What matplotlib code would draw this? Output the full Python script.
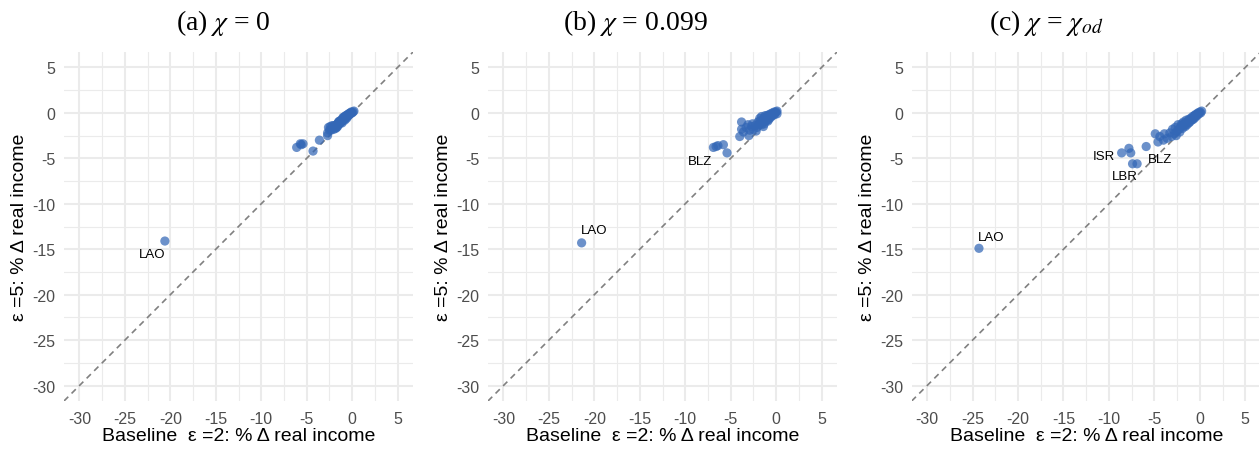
import matplotlib
matplotlib.use("Agg")
import matplotlib.pyplot as plt
import numpy as np

plt.rcParams["font.family"] = ["Liberation Sans", "DejaVu Sans"]
plt.rcParams["mathtext.fontset"] = "stix"

# ---- data: % change in real income, baseline epsilon=2 (x) vs epsilon=5 (y)
panel_titles = [r"(a) $\chi$ = 0", r"(b) $\chi$ = 0.099", r"(c) $\chi$ = $\chi_{od}$"]

a_x = [-20.6, -6.1, -5.7, -5.4, -5.6, -4.3, -3.6, -2.7, -2.7, -2.6, -2.5, -2.4,
       -2.3, -2.2, -2.1, -2.0, -1.9, -1.8, -1.8, -1.7, -1.6, -1.6, -1.5, -1.5,
       -1.4, -1.3, -1.3, -1.2, -1.2, -1.1, -1.0, -1.0, -0.9, -0.9, -0.8, -0.8,
       -0.7, -0.7, -0.6, -0.6, -0.5, -0.5, -0.4, -0.4, -0.3, -0.3, -0.2, -0.2,
       -0.1, -0.1, 0.0, 0.1, 0.2, -2.0, -1.7, -1.4, -1.1, -0.8, -2.2, -1.5,
       -1.0, -0.6]
a_y = [-14.1, -3.8, -3.4, -3.4, -3.5, -4.2, -3.0, -2.5, -2.2, -1.6, -1.9, -1.5,
       -1.9, -1.7, -1.6, -1.8, -1.5, -1.4, -1.7, -1.3, -1.5, -1.2, -1.3, -1.0,
       -1.2, -1.1, -0.9, -1.0, -0.8, -0.9, -0.8, -0.6, -0.7, -0.5, -0.6, -0.4,
       -0.5, -0.3, -0.4, -0.3, -0.4, -0.2, -0.3, -0.1, -0.2, -0.1, -0.1, 0.0,
       0.0, 0.1, 0.0, 0.1, 0.2, -1.4, -1.6, -0.9, -1.1, -0.8, -1.4, -1.1,
       -0.5, -0.6]

b_x = [-21.4, -6.9, -6.6, -6.4, -5.8, -5.4,
       -4.0, -3.8, -3.8, -3.6, -3.3, -3.0, -2.9, -2.7, -2.5, -2.3, -2.1, -2.0,
       -1.9, -1.8, -1.7, -1.6, -1.6, -1.5, -1.4, -1.3, -1.2, -1.2, -1.1, -1.0,
       -1.0, -0.9, -0.8, -0.8, -0.7, -0.6, -0.6, -0.5, -0.4, -0.4, -0.3, -0.2,
       -0.2, -0.1, 0.0, 0.1, 0.1, -2.6, -3.1, -2.2, -1.4, -1.8, -1.3, -0.9]
b_y = [-14.3, -3.8, -3.7, -3.6, -3.5, -4.4,
       -2.6, -1.0, -1.8, -2.1, -1.6, -2.5, -1.9, -1.5, -1.8, -1.4, -1.6, -1.0,
       -1.3, -0.6, -1.1, -0.4, -1.3, -0.8, -1.0, -0.5, -0.9, -0.3, -0.6, -0.8,
       -0.3, -0.5, -0.2, -0.7, -0.4, -0.1, -0.5, -0.3, 0.0, -0.3, -0.1, 0.1,
       -0.2, 0.0, 0.1, 0.2, -0.1, -1.2, -1.3, -2.0, -1.5, -0.9, -1.2, -0.9]

c_x = [-24.3, -8.6, -7.8, -7.6, -7.4, -6.9, -5.9, -4.9, -4.6, -4.4, -4.0, -3.9,
       -3.6, -3.3, -3.1, -3.0, -2.8, -2.7, -2.5, -2.4, -2.3, -2.1, -2.0, -1.9,
       -1.8, -1.7, -1.6, -1.5, -1.4, -1.3, -1.2, -1.1, -1.0, -0.9, -0.8, -0.8,
       -0.7, -0.6, -0.5, -0.5, -0.4, -0.3, -0.3, -0.2, -0.1, 0.0, 0.1, 0.2,
       -2.6, -2.2, -1.6, -1.9, -1.2, -0.7]
c_y = [-14.9, -4.4, -3.9, -4.4, -5.6, -5.6, -3.7, -2.3, -3.2, -2.6, -3.0, -2.3,
       -2.8, -2.2, -2.6, -1.8, -2.3, -1.6, -2.0, -1.3, -1.8, -1.5, -1.2, -1.7,
       -1.0, -1.4, -1.1, -0.8, -1.3, -0.9, -0.7, -1.0, -0.6, -0.8, -0.4, -0.7,
       -0.5, -0.3, -0.5, -0.2, -0.3, -0.1, -0.3, 0.0, -0.1, 0.1, 0.0, 0.2,
       -2.5, -2.1, -1.5, -1.3, -1.1, -0.7]

# labelled countries: (index into the panel's arrays, label)
a_labels = [(0, "LAO")]
b_labels = [(0, "LAO"), (1, "BLZ")]
c_labels = [(0, "LAO"), (1, "ISR"), (4, "LBR"), (6, "BLZ")]

ticks = [-30, -25, -20, -15, -10, -5, 0, 5]

# ---- drawing
label_offsets = {
    "a": [(-9, -9)],
    "b": [(9, 9), (-10, -10)],
    "c": [(8.5, 8.5), (-12.5, -2), (-5.5, -9), (10, -9)],
}

fig = plt.figure(figsize=(12.59, 4.52), dpi=100)
lefts = [64 / 1259, 488 / 1259, 911.7 / 1259]
title_x = [223 / 1259, 635 / 1259, 1046 / 1259]
panels = [(a_x, a_y, a_labels, "a"), (b_x, b_y, b_labels, "b"), (c_x, c_y, c_labels, "c")]
lim = (-31.7, 6.7)
minor = [t + 2.5 for t in ticks[:-1]]

for i, (xs, ys, labs, key) in enumerate(panels):
    ax = fig.add_axes([lefts[i], 50 / 452, 349 / 1259, 349 / 452])
    for s in ax.spines.values():
        s.set_visible(False)
    ax.set_xticks(ticks)
    ax.set_yticks(ticks)
    ax.set_xticks(minor, minor=True)
    ax.set_yticks(minor, minor=True)
    ax.grid(True, which="major", color="#EBEBEB", linewidth=1.5)
    ax.grid(True, which="minor", color="#EBEBEB", linewidth=0.8)
    ax.set_axisbelow(True)
    ax.tick_params(which="both", length=0)
    ax.tick_params(which="major", labelsize=11.5, labelcolor="#4D4D4D")
    ax.tick_params(axis="x", which="major", pad=7)
    ax.tick_params(axis="y", which="major", pad=6)
    ax.set_xticklabels([str(t) for t in ticks])
    ax.set_yticklabels([str(t) for t in ticks])

    ax.axline((0, 0), slope=1, color="#808080", linewidth=1.2,
              dashes=(3.6, 2.8), zorder=1)
    ax.scatter(xs, ys, s=44, color="#3367B6", alpha=0.72, edgecolors="none",
               zorder=3)
    for (idx, name), off in zip(labs, label_offsets[key]):
        ax.annotate(name, (xs[idx], ys[idx]), xytext=off,
                    textcoords="offset points", ha="center", va="center",
                    fontsize=9.5, color="black", zorder=4)

    ax.set_xlim(lim)
    ax.set_ylim(lim)

    ax.set_xlabel("Baseline  \u03b5 =2: % \u0394 real income", fontsize=14, labelpad=1)
    ax.set_ylabel("\u03b5 =5: % \u0394 real income", fontsize=14, labelpad=3)

    fig.text(title_x[i], 1 - 23 / 452, panel_titles[i], ha="center", va="center",
             fontsize=20, family="Liberation Serif")

fig.savefig("out.png", dpi=100)
